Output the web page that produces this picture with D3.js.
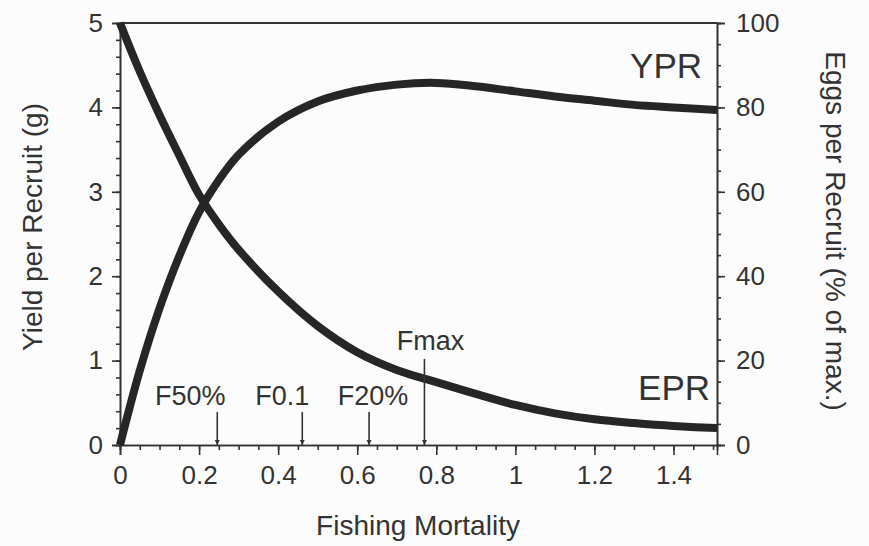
<!DOCTYPE html>
<html>
<head>
<meta charset="utf-8">
<script src="https://cdn.jsdelivr.net/npm/d3@7"></script>
<style>
  body { margin: 0; background: #fcfcfc; }
  svg { display: block; font-family: "Liberation Sans", Arial, sans-serif; }
  .axis text { fill: #333; font-size: 26px; }
  .axis line, .axis path { stroke: #333; stroke-width: 1.6; }
</style>
</head>
<body>
<div id="okvir"></div>
<script>
// fishing mortality grid and the two curves
const fishingF = [0, 0.05, 0.1, 0.15, 0.2, 0.25, 0.3, 0.4, 0.5, 0.6, 0.7, 0.8, 0.9, 1.0, 1.1, 1.2, 1.3, 1.4, 1.51]
const yieldPerRecruit = [0, 0.88, 1.62, 2.24, 2.76, 3.14, 3.44, 3.83, 4.07, 4.20, 4.27, 4.29, 4.25, 4.19, 4.13, 4.08, 4.03, 4.00, 3.97]
const eggsPerRecruit = [100, 88.5, 78.2, 68.6, 59.3, 52.3, 46.3, 36.4, 28.2, 22.0, 17.8, 14.9, 12.1, 9.5, 7.5, 6.1, 5.2, 4.5, 4.0]

// reference points
const markerNames = ["F50%", "F0.1", "F20%", "Fmax"]
const markerF = [0.246, 0.461, 0.63, 0.77]

const xTickValues = [0, 0.2, 0.4, 0.6, 0.8, 1, 1.2, 1.4]
const yTickValues = [0, 1, 2, 3, 4, 5]
const y2TickValues = [0, 20, 40, 60, 80, 100]

const dim = { sirina: 869, visina: 546, left: 120, right: 717, top: 23, bottom: 445 }

const svg = d3.select("#okvir").append("svg")
  .attr("width", dim.sirina)
  .attr("height", dim.visina)

const x = d3.scaleLinear().domain([0, 1.51]).range([dim.left, dim.right])
const y = d3.scaleLinear().domain([0, 5]).range([dim.bottom, dim.top])
const y2 = d3.scaleLinear().domain([0, 100]).range([dim.bottom, dim.top])

// minor ticks
svg.append("g").attr("class", "axis")
  .attr("transform", `translate(0,${dim.bottom})`)
  .call(d3.axisBottom(x).tickValues(d3.range(0, 1.52, 0.05)).tickSize(5).tickFormat(""))
svg.append("g").attr("class", "axis")
  .attr("transform", `translate(${dim.left},0)`)
  .call(d3.axisLeft(y).tickValues(d3.range(0, 5.01, 0.2)).tickSize(4).tickFormat(""))
svg.append("g").attr("class", "axis")
  .attr("transform", `translate(${dim.right},0)`)
  .call(d3.axisRight(y2).tickValues(d3.range(0, 100.1, 5)).tickSize(4).tickFormat(""))

// major ticks
svg.append("g").attr("class", "axis")
  .attr("transform", `translate(0,${dim.bottom})`)
  .call(d3.axisBottom(x).tickValues(xTickValues).tickSize(10).tickPadding(11).tickFormat(d => String(d)))
svg.append("g").attr("class", "axis")
  .attr("transform", `translate(${dim.left},0)`)
  .call(d3.axisLeft(y).tickValues(yTickValues).tickSize(8).tickPadding(9).tickFormat(d => String(d)))
svg.append("g").attr("class", "axis")
  .attr("transform", `translate(${dim.right},0)`)
  .call(d3.axisRight(y2).tickValues(y2TickValues).tickSize(8).tickPadding(11).tickFormat(d => String(d)))

// top frame line
svg.append("line")
  .attr("x1", dim.left).attr("x2", dim.right)
  .attr("y1", dim.top).attr("y2", dim.top)
  .attr("stroke", "#333").attr("stroke-width", 1.8)

// curves
const linija = s => d3.line()
  .x((d, i) => x(fishingF[i]))
  .y(d => s(d))
  .curve(d3.curveCatmullRom.alpha(0.5))

svg.append("path")
  .attr("d", linija(y)(yieldPerRecruit))
  .attr("fill", "none").attr("stroke", "#262626").attr("stroke-width", 8)

svg.append("path")
  .attr("d", linija(y2)(eggsPerRecruit))
  .attr("fill", "none").attr("stroke", "#262626").attr("stroke-width", 8)

// reference markers
const markerTop = [0.39, 0.39, 0.39, 1.02]
const labelDx = [-27, -20, 4, 6]
const labelY = [0.47, 0.47, 0.47, 1.13]

svg.selectAll(".marker")
  .data(markerF)
  .join("line")
  .attr("class", "marker")
  .attr("x1", d => x(d)).attr("x2", d => x(d))
  .attr("y1", (d, i) => y(markerTop[i])).attr("y2", y(0))
  .attr("stroke", "#333").attr("stroke-width", 1.6)

svg.selectAll(".marker-dot")
  .data(markerF)
  .join("path")
  .attr("class", "marker-dot")
  .attr("d", d => `M${x(d) - 2.5},${y(0) - 5}L${x(d) + 2.5},${y(0) - 5}L${x(d)},${y(0)}Z`)
  .attr("fill", "#333")

svg.selectAll(".marker-label")
  .data(markerNames)
  .join("text")
  .attr("class", "marker-label")
  .attr("x", (d, i) => x(markerF[i]) + labelDx[i])
  .attr("y", (d, i) => y(labelY[i]))
  .attr("text-anchor", "middle")
  .attr("font-size", 27)
  .attr("fill", "#333")
  .text(d => d)

// curve labels
svg.append("text")
  .attr("x", 702).attr("y", 78)
  .attr("text-anchor", "end")
  .attr("font-size", 35).attr("fill", "#333")
  .text("YPR")

svg.append("text")
  .attr("x", 710).attr("y", 400)
  .attr("text-anchor", "end")
  .attr("font-size", 35).attr("fill", "#333")
  .text("EPR")

// axis titles
svg.append("text")
  .attr("transform", "translate(42,227) rotate(-90)")
  .attr("text-anchor", "middle")
  .attr("font-size", 28).attr("fill", "#333")
  .text("Yield per Recruit (g)")

svg.append("text")
  .attr("transform", "translate(826,231) rotate(90)")
  .attr("text-anchor", "middle")
  .attr("font-size", 28).attr("fill", "#333")
  .text("Eggs per Recruit (% of max.)")

svg.append("text")
  .attr("x", 418).attr("y", 535)
  .attr("text-anchor", "middle")
  .attr("font-size", 28).attr("fill", "#333")
  .text("Fishing Mortality")
</script>
</body>
</html>
